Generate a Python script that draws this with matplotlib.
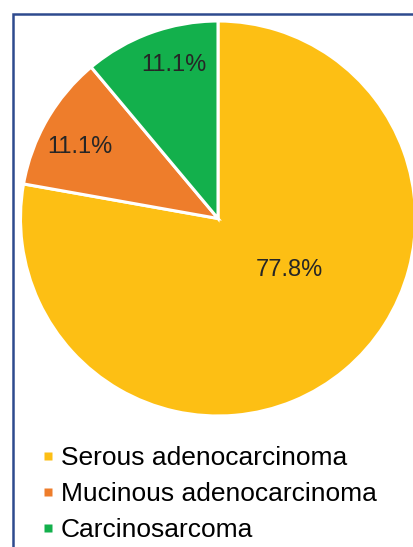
import numpy as np
import matplotlib
matplotlib.use("Agg")
import matplotlib.pyplot as plt
from matplotlib.lines import Line2D
from matplotlib.patches import Rectangle

plt.rcParams["font.family"] = ["Liberation Sans", "DejaVu Sans"]

categories = ["Serous adenocarcinoma", "Mucinous adenocarcinoma", "Carcinosarcoma"]
shares = [77.8, 11.1, 11.1]
pct_labels = ["77.8%", "11.1%", "11.1%"]
colors = ["#FDBF14", "#EE7D2B", "#13B04C"]

# label placement (fraction of radius, angular nudge in degrees)
label_r = [0.44, 0.79, 0.82]
label_shift = [15, 2, -4]

W, H = 414, 547
fig = plt.figure(figsize=(W / 100, H / 100), dpi=100)

# frame (only left/top edges fall inside the image)
fig.patches.append(Rectangle((13.5 / W, -0.1), 2.0, 1 - 13.5 / H + 0.1,
                             transform=fig.transFigure, fill=False,
                             edgecolor="#2E4A8E", linewidth=1.8))

cx, cy, rad = 218, 218.5, 197.5
ax = fig.add_axes([(cx - rad) / W, 1 - (cy + rad) / H, 2 * rad / W, 2 * rad / H])
wedges, _ = ax.pie(shares, colors=colors, startangle=90, counterclock=False,
                   radius=1.0, wedgeprops=dict(edgecolor="white", linewidth=2.2))
ax.set_xlim(-1, 1)
ax.set_ylim(-1, 1)
ax.axis("off")

for w, txt, r, sh in zip(wedges, pct_labels, label_r, label_shift):
    mid = np.deg2rad((w.theta1 + w.theta2) / 2 + sh)
    ax.text(r * np.cos(mid), r * np.sin(mid) - 0.01, txt, ha="center", va="center",
            fontsize=17, color="#262626")

handles = [Line2D([], [], marker="s", linestyle="none", markersize=5.8,
                  markerfacecolor=c, markeredgecolor="none") for c in colors]
fig.legend(handles, categories, loc="upper left",
           bbox_to_anchor=(42.5 / W, 1 - 446 / H), frameon=False,
           fontsize=19, handlelength=0.4, handletextpad=0.3,
           labelspacing=0.45, borderpad=0, borderaxespad=0)

fig.savefig("out.png", dpi=100)
